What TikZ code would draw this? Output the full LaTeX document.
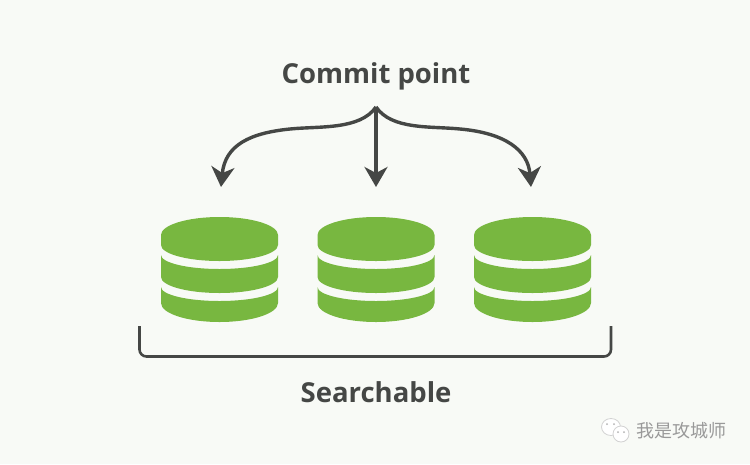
\documentclass[tikz,border=0pt]{standalone}
\usepackage{fontspec}
\setmainfont{Open Sans}
\newfontfamily\cjkfont{Noto Sans CJK SC}
\usetikzlibrary{arrows.meta}
\definecolor{bggreen}{HTML}{F8FAF6}
\definecolor{dbgreen}{HTML}{78B740}
\definecolor{inkgray}{HTML}{454745}
\tikzset{
	title/.style={text=inkgray, font=\fontsize{27.5}{30}\selectfont\bfseries},
	fork/.style={draw=inkgray, line width=3.4pt, -{Stealth[length=20pt,width=23pt,inset=6pt]}},
	bubble/.style={draw=gray!35, fill=white, line width=0.8pt}
}
\begin{document}
\begin{tikzpicture}[x=1pt,y=-1pt]
	\useasboundingbox (0,0) rectangle (750,464);
	\fill[bggreen] (0,0) rectangle (750,464);
	% the three stacks
	\foreach \cx in {219.5,376,532.5} {
		\fill[dbgreen] (\cx-58.5,235) arc[start angle=180,end angle=360,x radius=58.5,y radius=18]
			-- (\cx+58.5,245) arc[start angle=0,end angle=180,x radius=58.5,y radius=16] -- cycle;
		\fill[dbgreen] (\cx-58.5,255) arc[start angle=180,end angle=0,x radius=58.5,y radius=14]
			-- (\cx+58.5,277) arc[start angle=0,end angle=180,x radius=58.5,y radius=16] -- cycle;
		\fill[dbgreen] (\cx-58.5,287) arc[start angle=180,end angle=0,x radius=58.5,y radius=14]
			-- (\cx+58.5,303) arc[start angle=0,end angle=180,x radius=58.5,y radius=19] -- cycle;
	}
	\node[title] (commit) at (376,76) {Commit point};
	\node[title] (search) at (376,392) {Searchable};
	\coordinate (root) at (376,107);
	\coordinate (left) at (221,187);
	\coordinate (mid) at (376,187);
	\coordinate (right) at (531,187);
	\draw[fork] (root) .. controls (360,130) and (320,126) .. (290,129) .. controls (250,133) and (225,145) .. (left);
	\draw[fork] (root) -- (mid);
	\draw[fork] (root) .. controls (392,130) and (430,126) .. (460,129) .. controls (505,133) and (528,150) .. (right);
	% bracket under the stacks
	\draw[inkgray, line width=2.6pt, rounded corners=7pt] (139.5,326) -- (139.5,356.5) -- (611,356.5) -- (611,326);
	% watermark
	\draw[bubble] (611,427) ellipse (9.5pt and 8.5pt);
	\draw[bubble] (621,434) ellipse (8pt and 8pt);
	\fill[gray!60] (607,424) circle (1pt) (614,424) circle (1pt) (618,432) circle (1pt) (624,432) circle (1pt);
	\node[text=gray!80, font=\cjkfont\fontsize{18}{20}\selectfont] (mark) at (681,431) {我是攻城师};
\end{tikzpicture}
\end{document}
